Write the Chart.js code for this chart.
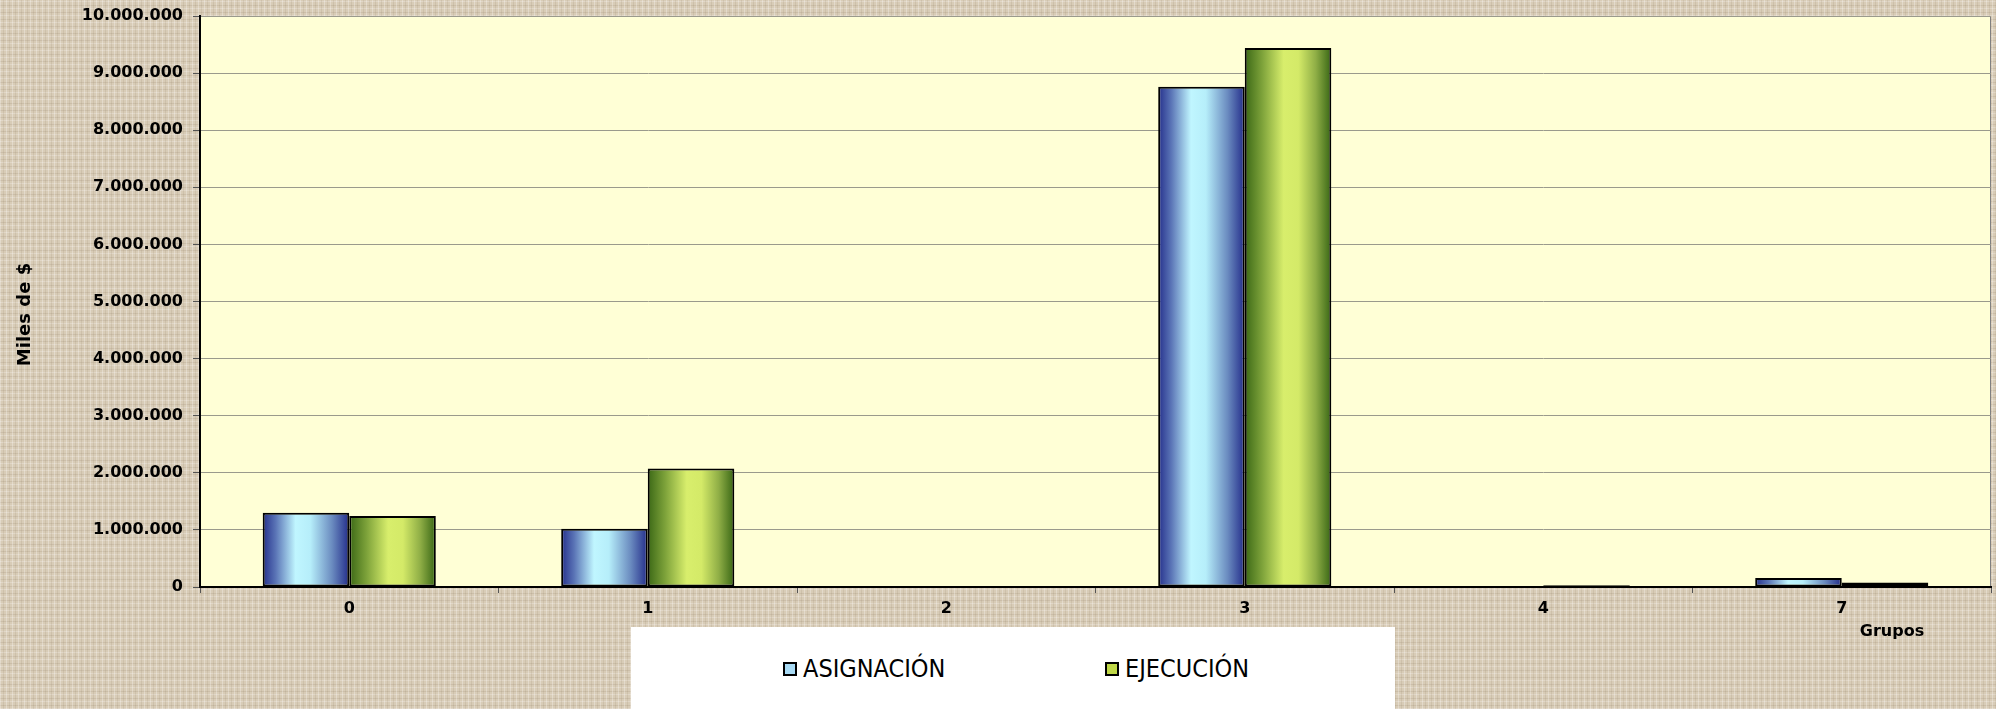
<!DOCTYPE html>
<html>
<head>
<meta charset="utf-8">
<script src="https://cdn.jsdelivr.net/npm/chart.js@4/dist/chart.umd.min.js"></script>
<style>
  html, body { margin: 0; padding: 0; }
  body {
    width: 1996px; height: 709px; overflow: hidden;
    background-color: #d8ccb7;
    background-image:
      repeating-linear-gradient(90deg, rgba(255,255,255,0.28) 0 1px, transparent 1px 3px, rgba(110,90,60,0.10) 3px 4px, transparent 4px 6px),
      repeating-linear-gradient(0deg, rgba(255,255,255,0.22) 0 1px, transparent 1px 3px, rgba(110,90,60,0.12) 3px 4px, transparent 4px 7px);
  }
  #wrap { position: absolute; left: 0; top: 0; width: 1996px; height: 709px; }
  #legend {
    position: absolute; left: 631px; top: 627px; width: 764px; height: 90px;
    background: #ffffff;
    font-family: "DejaVu Sans Condensed", "DejaVu Sans", sans-serif; font-size: 25px; color: #000;
  }
  .item { position: absolute; top: 27px; height: 30px; line-height: 30px; white-space: nowrap; }
  .box { position: absolute; top: 8px; left: 0; width: 10px; height: 10px; border: 2px solid #000; }
  .lbl { position: absolute; left: 20px; top: 0; }
</style>
</head>
<body>
<div id="wrap"><canvas id="gastoChart"></canvas></div>
<div id="legend"></div>
<script>
// Datos del grafico
const grupos = ['0', '1', '2', '3', '4', '7'];
const asignacion = [1300000, 1020000, 0, 8760000, 0, 157000];
const ejecucion = [1245000, 2075000, 0, 9440000, 30000, 80000];
const yTicks = [0, 1000000, 2000000, 3000000, 4000000, 5000000, 6000000, 7000000, 8000000, 9000000, 10000000];

const stopsAsig = [[0, '#25308c'], [0.15, '#5a74b6'], [0.38, '#c0f6ff'], [0.55, '#b6eefa'], [0.8, '#6b8cc0'], [1, '#232c8a']];
const stopsEjec = [[0, '#3b6816'], [0.2, '#7da23a'], [0.45, '#d8ee6c'], [0.62, '#d4ea68'], [0.82, '#8fae46'], [1, '#386614']];

function fmt(v) {
    return String(v).replace(/\B(?=(\d{3})+(?!\d))/g, '.');
}

// fondo del area de trazado y borde
const plotBg = {
    id: 'plotBg',
    beforeDraw(chart) {
        const a = chart.chartArea, ctx = chart.ctx;
        ctx.save();
        ctx.fillStyle = '#ffffd6';
        ctx.fillRect(a.left, a.top, a.right - a.left, a.bottom - a.top);
        ctx.strokeStyle = '#808080';
        ctx.lineWidth = 1;
        ctx.strokeRect(a.left + 0.5, a.top + 0.5, a.right - a.left - 1, a.bottom - a.top);
        ctx.restore();
    }
};

// degradado horizontal por barra
const barGradient = {
    id: 'barGradient',
    beforeDatasetsDraw(chart) {
        const ctx = chart.ctx;
        chart.data.datasets.forEach((ds, i) => {
            const meta = chart.getDatasetMeta(i);
            const stops = i === 0 ? stopsAsig : stopsEjec;
            meta.data.forEach(el => {
                const x0 = el.x - el.width / 2, x1 = el.x + el.width / 2;
                if (!(x1 > x0)) return;
                const g = ctx.createLinearGradient(x0, 0, x1, 0);
                stops.forEach(s => g.addColorStop(s[0], s[1]));
                el.options = Object.assign({}, el.options, { backgroundColor: g });
            });
        });
    }
};

// titulos de ejes
const axisTitles = {
    id: 'axisTitles',
    afterDraw(chart) {
        const a = chart.chartArea, ctx = chart.ctx;
        ctx.save();
        ctx.fillStyle = '#000';
        ctx.textAlign = 'center';
        ctx.textBaseline = 'middle';
        ctx.font = 'bold 16px "DejaVu Sans"';
        ctx.fillText('Grupos', a.right - 99, a.bottom + 45);
        ctx.translate(25, (a.top + a.bottom) / 2 + 13);
        ctx.rotate(-Math.PI / 2);
        ctx.font = 'bold 18px "DejaVu Sans"';
        ctx.fillText('Miles de $', 0, 0);
        ctx.restore();
    }
};

const ctx = document.getElementById('gastoChart').getContext('2d');
const gastoChart = new Chart(ctx, {
    type: 'bar',
    data: {
        labels: grupos,
        datasets: [
            {
                label: 'ASIGNACIÓN',
                data: asignacion,
                backgroundColor: () => '#a8daf4',
                borderColor: '#000000',
                borderWidth: 2,
                borderSkipped: false,
                legendColor: '#a8daf4'
            },
            {
                label: 'EJECUCIÓN',
                data: ejecucion,
                backgroundColor: () => '#c0d848',
                borderColor: '#000000',
                borderWidth: 2,
                borderSkipped: false,
                legendColor: '#c0d848'
            }
        ]
    },
    options: {
        responsive: true,
        maintainAspectRatio: false,
        animation: false,
        categoryPercentage: 0.58,
        barPercentage: 1.0,
        layout: {
            padding: { left: 0, right: 5, top: 16, bottom: 0 }
        },
        plugins: {
            legend: { display: false },
            tooltip: { enabled: false }
        },
        scales: {
            y: {
                min: 0,
                max: 10000000,
                afterFit: function(scale) { scale.width = 200; },
                afterBuildTicks: function(scale) { scale.ticks = yTicks.map(v => ({ value: v })); },
                border: { color: '#000000', width: 2 },
                grid: {
                    color: '#9a9a8c',
                    lineWidth: 1,
                    tickLength: 7,
                    tickColor: '#555555'
                },
                ticks: {
                    padding: 10,
                    color: '#000',
                    font: { family: 'DejaVu Sans', size: 16, weight: 'bold', lineHeight: 0.6 },
                    callback: function(value) { return fmt(value); }
                }
            },
            x: {
                afterFit: function(scale) { scale.height = 122; },
                border: { color: '#000000', width: 2 },
                grid: {
                    drawOnChartArea: false,
                    offset: true,
                    tickLength: 6,
                    tickColor: '#555555'
                },
                ticks: {
                    padding: 6,
                    color: '#000',
                    font: { family: 'DejaVu Sans', size: 16, weight: 'bold' }
                }
            }
        }
    },
    plugins: [plotBg, barGradient, axisTitles]
});

// leyenda
const legendEl = document.getElementById('legend');
const legendX = [152, 474];
gastoChart.data.datasets.forEach((ds, i) => {
    const item = document.createElement('div');
    item.className = 'item';
    item.style.left = legendX[i] + 'px';
    item.innerHTML = '<span class="box" style="background:' + ds.legendColor + '"></span><span class="lbl">' + ds.label + '</span>';
    legendEl.appendChild(item);
});
</script>
</body>
</html>
